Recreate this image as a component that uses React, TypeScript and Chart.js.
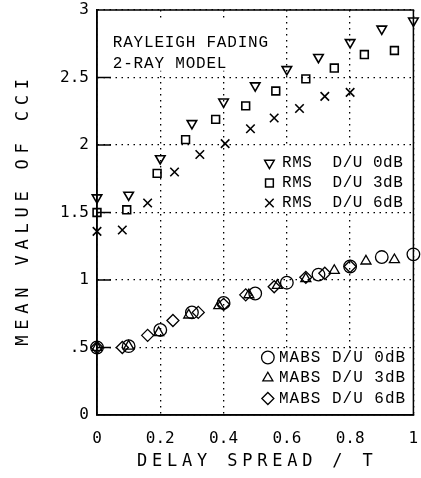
import React, { useEffect, useRef } from 'react';
import { Chart, registerables, PointElement } from 'chart.js';

Chart.register(...registerables);

// ---- data ----
const rms0X = [0, 0.1, 0.2, 0.3, 0.4, 0.5, 0.6, 0.7, 0.8, 0.9, 1.0];
const rms0Y = [1.61, 1.63, 1.9, 2.16, 2.32, 2.44, 2.56, 2.65, 2.76, 2.86, 2.92];
const rms3X = [0, 0.094, 0.19, 0.28, 0.375, 0.47, 0.565, 0.66, 0.75, 0.845, 0.94];
const rms3Y = [1.5, 1.52, 1.79, 2.04, 2.19, 2.29, 2.4, 2.49, 2.57, 2.67, 2.7];
const rms6X = [0, 0.08, 0.16, 0.245, 0.325, 0.405, 0.485, 0.56, 0.64, 0.72, 0.8];
const rms6Y = [1.36, 1.37, 1.57, 1.8, 1.93, 2.01, 2.12, 2.2, 2.27, 2.36, 2.39];
const mabs0X = [0, 0.1, 0.2, 0.3, 0.4, 0.5, 0.6, 0.7, 0.8, 0.9, 1.0];
const mabs0Y = [0.5, 0.51, 0.63, 0.76, 0.83, 0.9, 0.98, 1.04, 1.1, 1.17, 1.19];
const mabs3X = [0, 0.1, 0.195, 0.29, 0.385, 0.48, 0.57, 0.66, 0.75, 0.85, 0.94];
const mabs3Y = [0.5, 0.51, 0.61, 0.74, 0.81, 0.89, 0.96, 1.01, 1.07, 1.14, 1.15];
const mabs6X = [0, 0.08, 0.16, 0.24, 0.32, 0.4, 0.47, 0.56, 0.66, 0.72, 0.8];
const mabs6Y = [0.5, 0.5, 0.59, 0.7, 0.76, 0.82, 0.89, 0.95, 1.02, 1.05, 1.1];

const xTickValues = [0, 0.2, 0.4, 0.6, 0.8, 1];
const yTickValues = [0, 0.5, 1, 1.5, 2, 2.5, 3];

const xTitle = 'DELAY SPREAD / T';
const yTitle = 'MEAN VALUE OF CCI';
const noteLines = ['RAYLEIGH FADING', '2-RAY MODEL'];
const rmsLegend = ['RMS  D/U 0dB', 'RMS  D/U 3dB', 'RMS  D/U 6dB'];
const mabsLegend = ['MABS D/U 0dB', 'MABS D/U 3dB', 'MABS D/U 6dB'];

const rmsStyles = [
  { pointStyle: 'triangle', rotation: 180, radius: 5.5 },
  { pointStyle: 'rect', rotation: 0, radius: 5.5 },
  { pointStyle: 'crossRot', rotation: 0, radius: 6 },
];
const mabsStyles = [
  { pointStyle: 'circle', rotation: 0, radius: 6.3 },
  { pointStyle: 'triangle', rotation: 0, radius: 5.8 },
  { pointStyle: 'rectRot', rotation: 0, radius: 6 },
];

const pts = (xs: number[], ys: number[]) => xs.map((x, i) => ({ x, y: ys[i] }));

const TICK_FONT = 'DejaVu Sans Mono';
const TEXT_FONT = 'Liberation Mono';

function drawSymbol(ctx: CanvasRenderingContext2D, x: number, y: number, st: any, bw: number) {
  const pe: any = new (PointElement as any)({
    x,
    y,
    options: {
      radius: st.radius,
      pointStyle: st.pointStyle,
      rotation: st.rotation,
      borderWidth: bw,
      borderColor: '#000',
      backgroundColor: 'rgba(0,0,0,0)',
    },
  });
  pe.draw(ctx);
}

const decor = {
  id: 'decor',
  beforeDatasetsDraw(chart: any) {
    const { ctx, chartArea: a, scales } = chart;
    const x = scales.x;
    const y = scales.y;
    ctx.save();
    ctx.fillStyle = '#fff';
    // annotation box
    const ax0 = a.left + 2;
    const ax1 = x.getPixelForValue(0.58);
    const ay0 = y.getPixelForValue(2.92);
    const ay1 = y.getPixelForValue(2.55);
    ctx.fillRect(ax0, ay0, ax1 - ax0, ay1 - ay0);
    // upper legend box
    const ux0 = x.getPixelForValue(0.5) + 2;
    const uy0 = y.getPixelForValue(2) + 2;
    const uy1 = y.getPixelForValue(1.5) - 2;
    ctx.fillRect(ux0, uy0, a.right - 1 - ux0, uy1 - uy0);
    // lower legend box
    const lx0 = x.getPixelForValue(0.5) + 2;
    const ly0 = y.getPixelForValue(0.5) + 2;
    ctx.fillRect(lx0, ly0, a.right - 1 - lx0, a.bottom - 1 - ly0);
    ctx.restore();
  },
  afterDraw(chart: any) {
    const { ctx, chartArea: a, scales } = chart;
    const x = scales.x;
    const y = scales.y;
    ctx.save();
    // frame
    ctx.strokeStyle = '#000';
    ctx.lineWidth = 1.5;
    ctx.setLineDash([]);
    ctx.strokeRect(a.left, a.top, a.right - a.left, a.bottom - a.top);
    // inner y ticks
    for (const v of yTickValues) {
      if (v === 0 || v === 3) continue;
      const py = y.getPixelForValue(v);
      ctx.beginPath();
      ctx.moveTo(a.left, py);
      ctx.lineTo(a.left + 14, py);
      ctx.stroke();
    }
    ctx.fillStyle = '#000';
    // annotation text
    ctx.font = `16px "${TEXT_FONT}"`;
    (ctx as any).letterSpacing = '0.8px';
    ctx.textAlign = 'left';
    ctx.textBaseline = 'middle';
    const nx = x.getPixelForValue(0.05);
    ctx.fillText(noteLines[0], nx, a.top + 33);
    ctx.fillText(noteLines[1], nx, a.top + 54);
    // upper legend
    const sx = x.getPixelForValue(0.545);
    const tx = x.getPixelForValue(0.585);
    const uTop = y.getPixelForValue(2);
    (ctx as any).letterSpacing = '0.5px';
    rmsLegend.forEach((t, i) => {
      const py = uTop + 18 + i * 20;
      drawSymbol(ctx, sx, py, rmsStyles[i], 1.5);
      ctx.fillStyle = '#000';
      ctx.fillText(t, tx, py);
    });
    // lower legend
    const lTop = y.getPixelForValue(0.5);
    const lsx = x.getPixelForValue(0.54);
    const ltx = x.getPixelForValue(0.575);
    (ctx as any).letterSpacing = '1px';
    mabsLegend.forEach((t, i) => {
      const py = lTop + 10 + i * 20.5;
      drawSymbol(ctx, lsx, py, mabsStyles[i], 1.3);
      ctx.fillStyle = '#000';
      ctx.fillText(t, ltx, py);
    });
    // axis titles
    ctx.font = `17px "${TICK_FONT}"`;
    (ctx as any).letterSpacing = '4.8px';
    ctx.textAlign = 'center';
    ctx.fillText(xTitle, (a.left + a.right) / 2 + 2, chart.height - 16);
    ctx.save();
    ctx.translate(24, (a.top + a.bottom) / 2);
    ctx.rotate(-Math.PI / 2);
    (ctx as any).letterSpacing = '5.8px';
    ctx.fillText(yTitle, 3, 0);
    ctx.restore();
    (ctx as any).letterSpacing = '0px';
    ctx.restore();
  },
};

export default function App() {
  const ref = useRef<HTMLCanvasElement>(null);
  useEffect(() => {
    const canvas = ref.current!;
    const mk = (xs: number[], ys: number[], st: any, bw: number) => ({
      data: pts(xs, ys),
      pointStyle: st.pointStyle,
      rotation: st.rotation,
      pointRadius: st.radius,
      pointBorderWidth: bw,
      borderColor: '#000',
      backgroundColor: 'rgba(0,0,0,0)',
      pointBackgroundColor: 'rgba(0,0,0,0)',
      pointBorderColor: '#000',
      showLine: false,
      clip: false as any,
    });
    const chart = new Chart(canvas, {
      type: 'scatter',
      data: {
        datasets: [
          mk(rms0X, rms0Y, rmsStyles[0], 1.6),
          mk(rms3X, rms3Y, rmsStyles[1], 1.6),
          mk(rms6X, rms6Y, rmsStyles[2], 1.6),
          mk(mabs0X, mabs0Y, mabsStyles[0], 1.3),
          mk(mabs3X, mabs3Y, mabsStyles[1], 1.3),
          mk(mabs6X, mabs6Y, mabsStyles[2], 1.3),
        ] as any,
      },
      options: {
        animation: false,
        responsive: false,
        devicePixelRatio: 1,
        layout: { padding: { top: 10, right: 5, left: 0, bottom: 0 } },
        plugins: { legend: { display: false }, tooltip: { enabled: false } },
        scales: {
          x: {
            type: 'linear',
            min: 0,
            max: 1,
            afterBuildTicks: (s: any) => {
              s.ticks = xTickValues.map((v) => ({ value: v }));
            },
            afterFit: (s: any) => {
              s.height = 63;
              s.paddingLeft = 0;
              s.paddingRight = 0;
              s.paddingTop = 0;
              s.paddingBottom = 0;
            },
            ticks: {
              color: '#000',
              padding: 14,
              maxRotation: 0,
              autoSkip: false,
              font: { family: TICK_FONT, size: 16 },
              callback: (v: any) => (v === 0 || v === 1 ? String(v) : Number(v).toFixed(1)),
            },
            grid: { color: '#000', lineWidth: 1.3, drawTicks: false },
            border: { display: true, color: '#000', width: 1.5, dash: [1.5, 4.5] },
          },
          y: {
            type: 'linear',
            min: 0,
            max: 3,
            afterBuildTicks: (s: any) => {
              s.ticks = yTickValues.map((v) => ({ value: v }));
            },
            afterFit: (s: any) => {
              s.width = 97;
              s.paddingLeft = 0;
              s.paddingRight = 0;
              s.paddingTop = 0;
              s.paddingBottom = 0;
            },
            ticks: {
              color: '#000',
              padding: 8,
              autoSkip: false,
              font: { family: TICK_FONT, size: 16 },
              callback: (v: any) => (v === 0.5 ? '.5' : String(v)),
            },
            grid: { color: '#000', lineWidth: 1.3, drawTicks: false },
            border: { display: true, color: '#000', width: 1.5, dash: [1.5, 4.5] },
          },
        },
      } as any,
      plugins: [decor],
    });
    return () => chart.destroy();
  }, []);
  return (
    <div style={{ position: 'absolute', left: 0, top: 0, width: 421, height: 478, background: '#fff' }}>
      <canvas ref={ref} width={421} height={478} style={{ display: 'block', width: 421, height: 478 }} />
    </div>
  );
}
